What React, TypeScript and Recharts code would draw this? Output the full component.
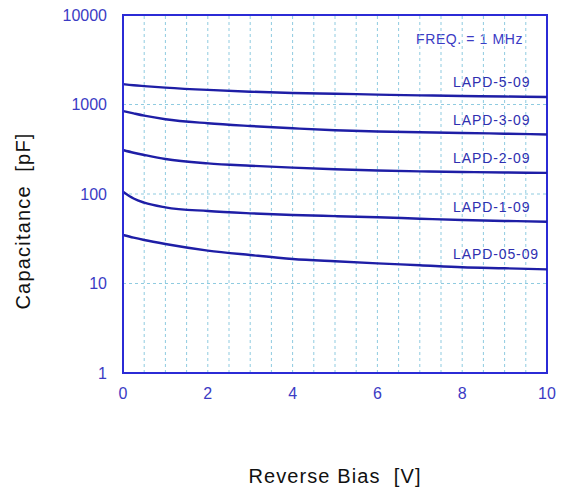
import { LineChart, Line, XAxis, YAxis, ReferenceLine, ReferenceArea, Label } from "recharts";

// reverse bias [V]
const bias = [0, 0.25, 0.5, 1, 2, 3, 4, 5, 6, 7, 8, 9, 10];

// capacitance [pF] at 1 MHz
const lapd5 = [1690, 1640, 1605, 1545, 1455, 1390, 1345, 1320, 1290, 1265, 1245, 1228, 1213];
const lapd3 = [845, 795, 750, 684, 617, 575, 542, 515, 499, 489, 481, 472, 462];
const lapd2 = [310, 289, 273, 246, 220, 207, 197, 189, 183, 179, 176, 174, 172];
const lapd1 = [106, 89, 80, 71, 64.5, 60.8, 58.2, 56.6, 55, 53, 51.2, 50, 49];
const lapd05 = [34.8, 32.5, 30.6, 27.6, 23.3, 20.8, 18.8, 17.7, 16.8, 16, 15.2, 14.8, 14.4];

const seriesNames = ["LAPD-5-09", "LAPD-3-09", "LAPD-2-09", "LAPD-1-09", "LAPD-05-09"];
const seriesValues = [lapd5, lapd3, lapd2, lapd1, lapd05];

const xTicks = [0, 2, 4, 6, 8, 10];
const yTicks = [1, 10, 100, 1000, 10000];
const xGrid = [0.5, 1, 1.5, 2, 2.5, 3, 3.5, 4, 4.5, 5, 5.5, 6, 6.5, 7, 7.5, 8, 8.5, 9, 9.5];
const yGrid = [10, 100, 1000];

const data = bias.map((v, i) => {
  const row: Record<string, number> = { v };
  seriesNames.forEach((n, k) => (row[n] = seriesValues[k][i]));
  return row;
});

const FONT = "'Liberation Sans', Arial, sans-serif";
const FRAME = "#2b2bd6";
const CURVE = "#1e1ea6";
const TICK = "#3b3bc4";
const GRID = "#8fcbe0";

const endLabel = (name: string) => (props: any) => {
  if (props.index !== bias.length - 1) return null;
  return (
    <text
      x={props.x - 94}
      y={props.y - 15}
      fill="#2f2fb0"
      fontSize={14}
      letterSpacing={0.9}
      fontFamily={FONT}
      dominantBaseline="central"
    >
      {name}
    </text>
  );
};

export default function App() {
  return (
    <div style={{ position: "absolute", left: 0, top: 0, background: "white" }}>
      <LineChart
        width={563}
        height={493}
        data={data}
        margin={{ top: 15, right: 16, bottom: 90, left: 63 }}
      >
        {xGrid.map((g) => (
          <ReferenceLine key={"x" + g} x={g} stroke={GRID} strokeDasharray="3 3" strokeWidth={1} />
        ))}
        {yGrid.map((g) => (
          <ReferenceLine key={"y" + g} y={g} stroke={GRID} strokeDasharray="3 3" strokeWidth={1} />
        ))}
        <XAxis
          dataKey="v"
          type="number"
          domain={[0, 10]}
          ticks={xTicks}
          height={30}
          axisLine={{ stroke: FRAME, strokeWidth: 2 }}
          tickLine={false}
          tickSize={0}
          tickMargin={15}
          tick={{ fill: TICK, fontSize: 16, fontFamily: FONT }}
        >
          <Label
            content={(p: any) => (
              <text
                x={p.viewBox.x + p.viewBox.width / 2}
                y={476}
                textAnchor="middle"
                dominantBaseline="central"
                fontSize={20}
                letterSpacing={1.1}
                fontFamily={FONT}
                fill="#111"
                style={{ whiteSpace: "pre" }}
              >
                Reverse Bias  [V]
              </text>
            )}
          />
        </XAxis>
        <YAxis
          scale="log"
          domain={[1, 10000]}
          ticks={yTicks}
          allowDataOverflow
          width={60}
          axisLine={{ stroke: FRAME, strokeWidth: 2 }}
          tickLine={false}
          tickSize={0}
          tickMargin={16}
          tick={{ fill: TICK, fontSize: 16, fontFamily: FONT }}
        >
          <Label
            content={() => (
              <text
                x={23}
                y={221}
                transform="rotate(-90 23 221)"
                textAnchor="middle"
                dominantBaseline="central"
                fontSize={20}
                letterSpacing={1.2}
                fontFamily={FONT}
                fill="#111"
                style={{ whiteSpace: "pre" }}
              >
                Capacitance  [pF]
              </text>
            )}
          />
        </YAxis>
        <ReferenceArea
          x1={0}
          x2={10}
          y1={1}
          y2={10000}
          fill="none"
          stroke={FRAME}
          strokeWidth={2}
          fillOpacity={0}
          label={(p: any) => (
            <text
              x={p.viewBox.x + p.viewBox.width - 24}
              y={p.viewBox.y + 24}
              textAnchor="end"
              dominantBaseline="central"
              fontSize={14}
              letterSpacing={0.6}
              fontFamily={FONT}
              fill="#3b3bc4"
            >
              FREQ. = 1 MHz
            </text>
          )}
        />
        {seriesNames.map((n) => (
          <Line
            key={n}
            dataKey={n}
            type="monotone"
            stroke={CURVE}
            strokeWidth={2.4}
            dot={false}
            isAnimationActive={false}
            label={endLabel(n)}
          />
        ))}
      </LineChart>
    </div>
  );
}
